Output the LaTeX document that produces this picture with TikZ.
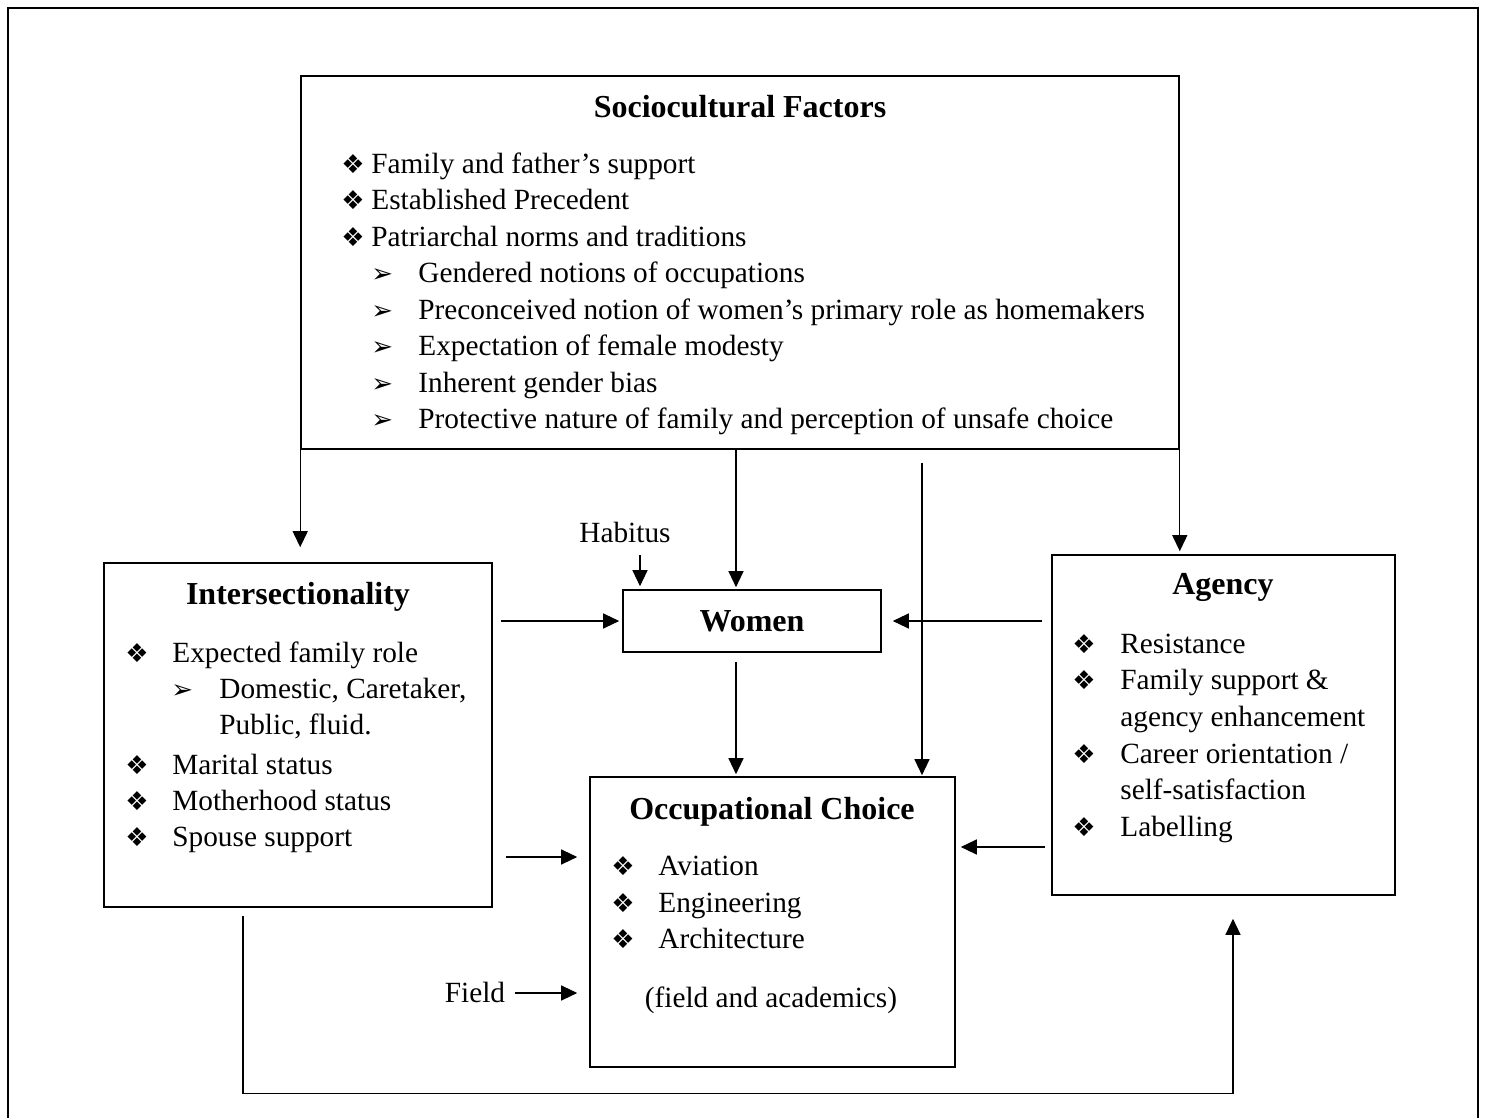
\documentclass[tikz,border=0pt]{standalone}
\usepackage{fontspec}
\setmainfont{Liberation Serif}
\newfontfamily\symfont{DejaVu Sans}
\usetikzlibrary{arrows.meta}
\begin{document}
\begin{tikzpicture}[x=0.5pt,y=-0.5pt,
  box/.style={draw, line width=0.8pt, inner sep=0pt},
  arr/.style={-{Triangle[length=8pt,width=7.5pt]}, line width=0.6pt},
  frame/.style={line width=1.4pt},
  ttl/.style={anchor=base, inner sep=0pt, font=\fontsize{16}{19}\selectfont\bfseries},
  txt/.style={anchor=base west, inner sep=0pt, font=\fontsize{14.65}{17}\selectfont},
  lbl/.style={anchor=base, inner sep=0pt, font=\fontsize{14.65}{17}\selectfont},
  bul/.style={anchor=base west, inner sep=0pt, font=\symfont\fontsize{13}{13}\selectfont},
]
\useasboundingbox (0,0) rectangle (1485,1118);
% outer frame (open at the bottom)
\draw[frame] (8,1125) -- (8,8) -- (1478,8) -- (1478,1125);

% boxes
\node[box, minimum width=439pt, minimum height=186.5pt] (soc) at (740,262.5) {};
\node[box, minimum width=194pt, minimum height=172pt] (inter) at (298,735) {};
\node[box, minimum width=129pt, minimum height=31pt] (women) at (752,621) {};
\node[box, minimum width=171.5pt, minimum height=170pt] (agency) at (1223.5,725) {};
\node[box, minimum width=182.5pt, minimum height=145pt] (occ) at (772.5,922) {};

% Sociocultural Factors
\node[ttl] (socT) at (740,118) {Sociocultural Factors};
\node[bul] (sb1) at (341,174) {❖}; \node[txt] (s1) at (371,174) {Family and father’s support};
\node[bul] (sb2) at (341,210) {❖}; \node[txt] (s2) at (371,210) {Established Precedent};
\node[bul] (sb3) at (341,247) {❖}; \node[txt] (s3) at (371,247) {Patriarchal norms and traditions};
\node[bul] (sb4) at (371,283) {➢}; \node[txt] (s4) at (418,283) {Gendered notions of occupations};
\node[bul] (sb5) at (371,320) {➢}; \node[txt] (s5) at (418,320) {Preconceived notion of women’s primary role as homemakers};
\node[bul] (sb6) at (371,356) {➢}; \node[txt] (s6) at (418,356) {Expectation of female modesty};
\node[bul] (sb7) at (371,393) {➢}; \node[txt] (s7) at (418,393) {Inherent gender bias};
\node[bul] (sb8) at (371,429) {➢}; \node[txt] (s8) at (418,429) {Protective nature of family and perception of unsafe choice};

% Intersectionality
\node[ttl] (interT) at (298,604) {Intersectionality};
\node[bul] (ib1) at (125,662) {❖}; \node[txt] (i1) at (172,662) {Expected family role};
\node[bul] (ib2) at (171,698) {➢}; \node[txt] (i2) at (219,698) {Domestic, Caretaker,};
\node[txt] (i2b) at (219,734) {Public, fluid.};
\node[bul] (ib3) at (125,774) {❖}; \node[txt] (i3) at (172,774) {Marital status};
\node[bul] (ib4) at (125,810) {❖}; \node[txt] (i4) at (172,810) {Motherhood status};
\node[bul] (ib5) at (125,846) {❖}; \node[txt] (i5) at (172,846) {Spouse support};

% Women
\node[ttl] (womenT) at (752,632) {Women};

% Agency
\node[ttl] (agencyT) at (1223,595) {Agency};
\node[bul] (ab1) at (1072,653) {❖}; \node[txt] (a1) at (1120,653) {Resistance};
\node[bul] (ab2) at (1072,689) {❖}; \node[txt] (a2) at (1120,689) {Family support \&};
\node[txt] (a2b) at (1120,726) {agency enhancement};
\node[bul] (ab3) at (1072,763) {❖}; \node[txt] (a3) at (1120,763) {Career orientation /};
\node[txt] (a3b) at (1120,799) {self-satisfaction};
\node[bul] (ab4) at (1072,836) {❖}; \node[txt] (a4) at (1120,836) {Labelling};

% Occupational Choice
\node[ttl] (occT) at (772,819) {Occupational Choice};
\node[bul] (ob1) at (611,875) {❖}; \node[txt] (o1) at (658,875) {Aviation};
\node[bul] (ob2) at (611,912) {❖}; \node[txt] (o2) at (658,912) {Engineering};
\node[bul] (ob3) at (611,948) {❖}; \node[txt] (o3) at (658,948) {Architecture};
\node[lbl] (o4) at (771,1007) {(field and academics)};

% free labels
\node[lbl] (hab) at (625,542) {Habitus};
\node[lbl] (field) at (475,1002) {Field};
\coordinate (habarr) at (640,555);
\coordinate (fieldarr) at (515,993);

% connectors
\draw[arr, shorten >=7.5pt] (soc.south west) -- (soc.south west |- inter.north);
\draw[arr, shorten >=1.5pt] (soc.south east) -- (soc.south east |- agency.north);
\draw[arr, shorten >=1pt] ([xshift=-2pt]soc.south) -- ([xshift=-2pt]soc.south |- women.north);
\draw[arr, shorten >=0.5pt] ([xshift=91pt,yshift=-6.5pt]soc.south) -- ([xshift=91pt]soc.south |- occ.north);
\draw[arr, shorten >=1.5pt] (habarr) -- (habarr |- women.north);
\draw[arr, shorten <=4.5pt, shorten >=1pt] ([xshift=-8pt]women.south) -- ([xshift=-8pt]women.south |- occ.north);
\draw[arr, shorten <=4pt, shorten >=1.5pt] (inter.east |- women.west) -- (women.west);
\draw[arr, shorten <=4.5pt, shorten >=5.5pt] (agency.west |- women.east) -- (women.east);
\draw[arr, shorten <=6.5pt, shorten >=6pt] ([yshift=-61pt]inter.east) -- ([yshift=-61pt]inter.east -| occ.west);
\draw[arr, shorten <=3pt, shorten >=2.5pt] ([yshift=-61pt]agency.west) -- ([yshift=-61pt]agency.west -| occ.east);
\draw[arr, shorten >=6pt] (fieldarr) -- (fieldarr -| occ.west);
\draw[arr] ([xshift=-27.5pt,yshift=-4pt]inter.south) -- ++(0,178) -| ([xshift=4.75pt,yshift=-11.5pt]agency.south);
\end{tikzpicture}
\end{document}
